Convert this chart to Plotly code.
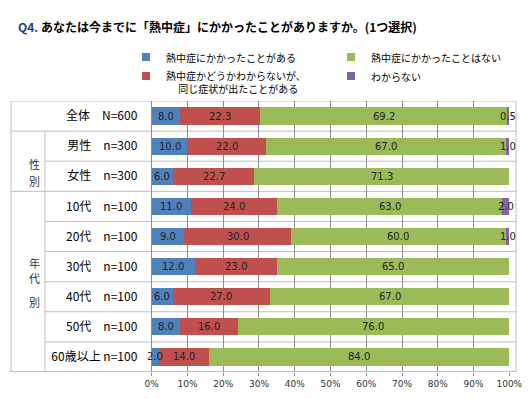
import plotly.graph_objects as go

categories = ["全体　N=600", "男性　n=300", "女性　n=300", "10代　n=100", "20代　n=100",
              "30代　n=100", "40代　n=100", "50代　n=100", "60歳以上 n=100"]
series_names = ["熱中症にかかったことがある",
                "熱中症かどうかわからないが、<br>　 同じ症状が出たことがある",
                "熱中症にかかったことはない",
                "わからない"]
had = [8.0, 10.0, 6.0, 11.0, 9.0, 12.0, 6.0, 8.0, 2.0]
unsure = [22.3, 22.0, 22.7, 24.0, 30.0, 23.0, 27.0, 16.0, 14.0]
never = [69.2, 67.0, 71.3, 63.0, 60.0, 65.0, 67.0, 76.0, 84.0]
dontknow = [0.5, 1.0, 0.0, 2.0, 1.0, 0.0, 0.0, 0.0, 0.0]
x_ticks = [0, 10, 20, 30, 40, 50, 60, 70, 80, 90, 100]
x_ticktext = [f"{v}%" for v in x_ticks]
group_chars = [("性", 154), ("別", 171), ("年", 263), ("代", 288), ("別", 312)]

colors = ["#4F81BD", "#C0504D", "#9BBB59", "#8064A2"]
ranks = [1, 3, 2, 4]
values = [had, unsure, never, dontknow]

# page body has an 8px margin: figure is placed at (8, 8) on screen
OFF = 8
W, H = 530 - OFF, 399 - OFF
FONT = "Noto Sans CJK JP"
plot_top, plot_bot = 101 - OFF, 372 - OFF   # in figure px
mt, mb = plot_top, H - plot_bot


def sx(px):  # screen x -> paper x
    return (px - OFF) / W


def sy(py):  # screen y -> paper y
    return (plot_bot - (py - OFF)) / (plot_bot - plot_top)


fig = go.Figure()
ypos = list(range(len(categories)))
for name, vals, col in zip(series_names, values, colors):
    fig.add_trace(go.Bar(
        y=ypos, x=vals, name=name, orientation="h",
        marker=dict(color=col, line=dict(width=0)),
        showlegend=False, hoverinfo="skip",
    ))
# legend entries with small square swatches
for name, col, rk in zip(series_names, colors, ranks):
    fig.add_trace(go.Scatter(
        x=[None], y=[None], mode="markers", name=name,
        marker=dict(symbol="square", size=8, color=col),
        legendrank=rk, hoverinfo="skip",
    ))

annotations = []
for i in range(len(categories)):
    cum = 0.0
    for vals in values:
        v = vals[i]
        if v > 0:
            annotations.append(dict(
                x=cum + v / 2, y=i, xref="x", yref="y", text=f"{v:.1f}",
                showarrow=False, font=dict(size=10, color="#222222", family="DejaVu Sans"),
            ))
        cum += v

annotations.append(dict(
    x=sx(16), y=sy(27), xref="paper", yref="paper", xanchor="left", yanchor="middle",
    text="<span style='color:#1F3F7A'><b>Q4.</b></span> <b>あなたは今までに「熱中症」にかかったことがありますか。(1つ選択)</b>",
    showarrow=False, font=dict(size=12, color="#000000", family=FONT),
))

for ch, py in group_chars:
    annotations.append(dict(x=sx(27), y=sy(py), xref="paper", yref="paper",
                            text=ch, showarrow=False,
                            font=dict(size=11, color="#333333", family=FONT)))

shapes = []
grid_col = "#BFBFBF"
x_left, x_mid, x_right = sx(11), sx(45), sx(516)
full_lines = [-0.5, 0.5, 2.5, 8.5]
for b in [-0.5 + k for k in range(10)]:
    x0 = x_left if b in full_lines else x_mid
    shapes.append(dict(type="line", xref="paper", yref="y", x0=x0, x1=x_right, y0=b, y1=b,
                       line=dict(color=grid_col, width=1), layer="below"))
shapes.append(dict(type="line", xref="paper", yref="y", x0=x_left, x1=x_left, y0=-0.5, y1=8.5,
                   line=dict(color=grid_col, width=1)))
shapes.append(dict(type="line", xref="paper", yref="y", x0=x_mid, x1=x_mid, y0=0.5, y1=8.5,
                   line=dict(color=grid_col, width=1)))
shapes.append(dict(type="line", xref="paper", yref="y", x0=x_right, x1=x_right, y0=-0.5, y1=8.5,
                   line=dict(color=grid_col, width=1)))
shapes.append(dict(type="line", xref="paper", yref="y", x0=sx(9), x1=x_right, y0=8.5, y1=8.5,
                   line=dict(color="#A0A0A0", width=1)))

fig.update_layout(
    width=W, height=H,
    margin=dict(l=0, r=0, t=mt, b=mb, pad=0, autoexpand=False),
    paper_bgcolor="white", plot_bgcolor="rgba(0,0,0,0)",
    barmode="stack", bargap=0.43,
    font=dict(family=FONT, color="#000000"),
    showlegend=True,
    legend=dict(
        orientation="h", x=(126 - OFF) / W, y=1 - (44 - OFF) / H, xanchor="left", yanchor="top",
        xref="container", yref="container",
        entrywidth=160, entrywidthmode="pixels",
        font=dict(size=10, family=FONT, color="#000000"),
        itemwidth=30, valign="top", traceorder="normal",
        bgcolor="rgba(0,0,0,0)",
    ),
    xaxis=dict(
        domain=[sx(151.7), sx(509.3)], range=[0, 100], tickvals=x_ticks, ticktext=x_ticktext,
        showgrid=True, gridcolor="#8C8C8C", gridwidth=1, zeroline=False,
        ticks="outside", ticklen=3, tickcolor="#8C8C8C",
        tickfont=dict(size=9, color="#333333", family="DejaVu Sans"),
        showline=False, fixedrange=True,
    ),
    yaxis=dict(
        range=[8.5, -0.5], tickvals=ypos, ticktext=categories,
        showgrid=False, zeroline=False, showline=True, linecolor="#8C8C8C",
        ticks="", ticklabelstandoff=11,
        tickfont=dict(size=12, color="#000000", family=FONT), fixedrange=True,
    ),
    annotations=annotations, shapes=shapes,
)

fig.write_html("out.html")
